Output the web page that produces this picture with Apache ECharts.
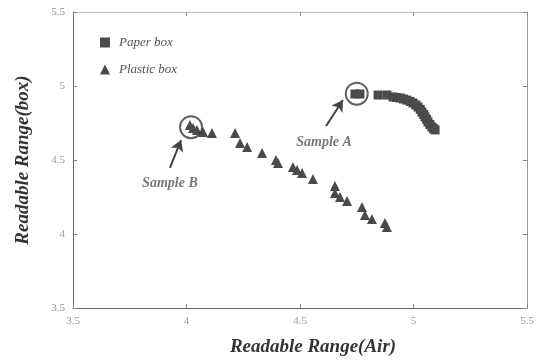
<!DOCTYPE html>
<html><head><meta charset="utf-8">
<script src="https://cdn.jsdelivr.net/npm/echarts@6/dist/echarts.min.js"></script>
<style>html,body{margin:0;padding:0;background:#fff}#c{width:545px;height:364px}</style>
</head><body><div id="c"></div>
<script>
// Data
const paperX = [4.742, 4.764, 4.844, 4.883, 4.910, 4.925, 4.941, 4.956, 4.971, 4.985, 4.998, 5.010, 5.020, 5.030, 5.037, 5.045, 5.051, 5.058, 5.064, 5.072, 5.081, 5.088, 5.095];
const paperY = [4.946, 4.946, 4.939, 4.939, 4.926, 4.922, 4.919, 4.912, 4.905, 4.896, 4.885, 4.872, 4.858, 4.842, 4.824, 4.808, 4.791, 4.774, 4.757, 4.740, 4.723, 4.712, 4.703];
const plasticX = [4.015, 4.029, 4.046, 4.073, 4.112, 4.214, 4.236, 4.267, 4.333, 4.394, 4.403, 4.469, 4.487, 4.509, 4.557, 4.654, 4.654, 4.676, 4.707, 4.773, 4.786, 4.817, 4.874, 4.883];
const plasticY = [4.736, 4.716, 4.703, 4.689, 4.682, 4.682, 4.615, 4.588, 4.547, 4.500, 4.480, 4.453, 4.432, 4.412, 4.372, 4.324, 4.277, 4.250, 4.223, 4.182, 4.128, 4.101, 4.074, 4.047];
const seriesNames = ['Paper box', 'Plastic box'];
const xTicks = [3.5, 4, 4.5, 5, 5.5];
const yTicks = [3.5, 4, 4.5, 5, 5.5];
const sampleA = [4.75, 4.948];
const sampleB = [4.02, 4.722];
const arrowA = [[4.615, 4.730], [4.689, 4.905]];
const arrowB = [[3.927, 4.446], [3.976, 4.635]];
const labelA = ['Sample A', 4.606, 4.622];
const labelB = ['Sample B', 3.927, 4.345];

const serif = '"Liberation Serif", "DejaVu Serif", serif';
const pair = (xs, ys) => xs.map((x, i) => [x, ys[i]]);
const axisCommon = {
  min: xTicks[0], max: xTicks[xTicks.length - 1], interval: 0.5,
  axisLine: { show: true, onZero: false, lineStyle: { color: '#666', width: 1 } },
  axisTick: { show: true, inside: true, length: 4, lineStyle: { color: '#888' } },
  splitLine: { show: false },
  axisLabel: { color: '#999', fontFamily: serif, fontSize: 11 }
};
const chart = echarts.init(document.getElementById('c'), null, { renderer: 'canvas' });
chart.setOption({
  animation: false,
  backgroundColor: '#fff',
  grid: { left: 73, right: 18, top: 12, bottom: 56 },
  legend: {
    data: [{ name: seriesNames[0], icon: 'rect' }, { name: seriesNames[1], icon: 'triangle' }],
    orient: 'vertical', left: 95, top: 31, itemWidth: 10, itemHeight: 10, itemGap: 14,
    textStyle: { fontFamily: serif, fontStyle: 'italic', fontSize: 13, color: '#555', padding: [0, 0, 0, 4] }
  },
  xAxis: [
    Object.assign({}, axisCommon, {
      type: 'value', position: 'bottom',
      name: 'Readable Range(Air)', nameLocation: 'middle', nameGap: 30,
      nameTextStyle: { fontFamily: serif, fontStyle: 'italic', fontWeight: 'bold', fontSize: 19, color: '#333', padding: [0, 0, 0, 26] },
      axisLabel: Object.assign({}, axisCommon.axisLabel, { margin: 8, formatter: v => xTicks.includes(v) ? String(v) : '' })
    }),
    Object.assign({}, axisCommon, {
      type: 'value', position: 'top', axisLabel: { show: false },
      axisLine: { show: true, onZero: false, lineStyle: { color: '#bbb', width: 1 } }
    })
  ],
  yAxis: [
    Object.assign({}, axisCommon, {
      type: 'value', position: 'left', min: yTicks[0], max: yTicks[yTicks.length - 1],
      name: 'Readable Range(box)', nameLocation: 'middle', nameGap: 40,
      nameTextStyle: { fontFamily: serif, fontStyle: 'italic', fontWeight: 'bold', fontSize: 19, color: '#333' },
      axisLabel: Object.assign({}, axisCommon.axisLabel, { margin: 8, formatter: v => yTicks.includes(v) ? String(v) : '' })
    }),
    Object.assign({}, axisCommon, {
      type: 'value', position: 'right', min: yTicks[0], max: yTicks[yTicks.length - 1], axisLabel: { show: false },
      axisLine: { show: true, onZero: false, lineStyle: { color: '#999', width: 1 } }
    })
  ],
  series: [
    {
      name: seriesNames[0], type: 'scatter', symbol: 'rect', symbolSize: 9,
      itemStyle: { color: '#4a4a4a', opacity: 1 },
      data: pair(paperX, paperY), z: 3
    },
    {
      name: seriesNames[1], type: 'scatter', symbol: 'triangle', symbolSize: 10,
      itemStyle: { color: '#4a4a4a', opacity: 1 },
      data: pair(plasticX, plasticY), z: 3,
      markLine: {
        silent: true, symbol: ['none', 'arrow'], symbolSize: [10, 11],
        lineStyle: { color: '#444', width: 2, type: 'solid' }, label: { show: false },
        data: [
          [{ coord: arrowA[0] }, { coord: arrowA[1] }],
          [{ coord: arrowB[0] }, { coord: arrowB[1] }]
        ]
      }
    },
    {
      name: 'circles', type: 'scatter', symbol: 'circle', symbolSize: 22, silent: true,
      itemStyle: { color: 'rgba(0,0,0,0)', borderColor: '#3a3a3a', borderWidth: 2 },
      data: [sampleA, sampleB], z: 4
    },
    {
      name: 'labels', type: 'scatter', symbolSize: 0, silent: true,
      label: { show: true, position: 'inside', formatter: p => p.data[2],
        fontFamily: serif, fontStyle: 'italic', fontWeight: 'bold', fontSize: 14, color: '#555' },
      data: [[labelA[1], labelA[2], labelA[0]], [labelB[1], labelB[2], labelB[0]]]
    }
  ]
});
</script></body></html>
